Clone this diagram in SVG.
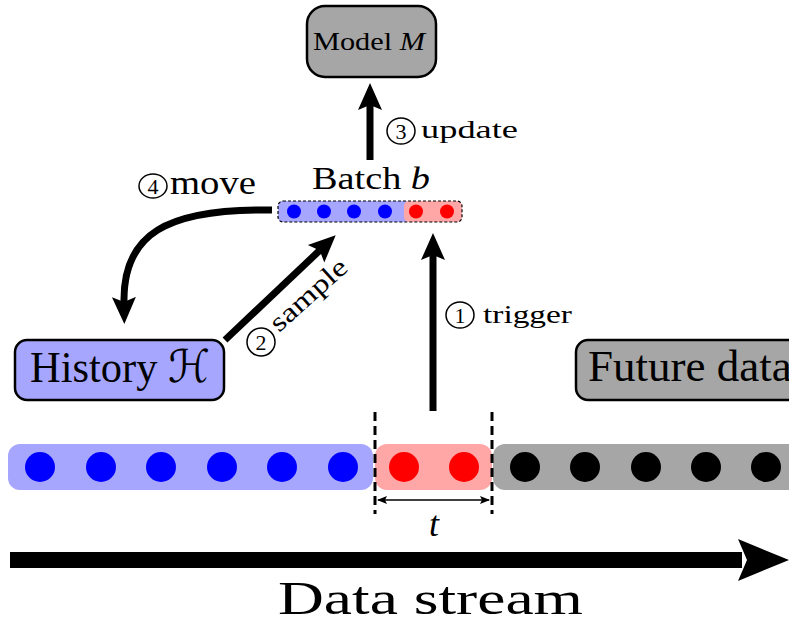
<svg xmlns="http://www.w3.org/2000/svg" width="789" height="630" viewBox="0 0 789 630">
<style>
text{font-family:"Liberation Serif","DejaVu Serif",serif;fill:#000}
.box{stroke:#000;stroke-width:2.5}
.conn{fill:none;stroke:#000;stroke-width:7}
.num{fill:none;stroke:#000;stroke-width:1.5}
.dash{stroke:#000;stroke-width:3;stroke-dasharray:9 5}
</style>
<defs>
<marker id="ah" markerUnits="userSpaceOnUse" markerWidth="30" markerHeight="28" viewBox="0 0 30 28" refX="5" refY="14" orient="auto">
<path d="M0,2 L27,14 L0,26 L5,14 z" fill="#000"/>
</marker>
<marker id="sh" markerUnits="userSpaceOnUse" markerWidth="10" markerHeight="10" viewBox="0 0 10 10" refX="9" refY="5" orient="auto-start-reverse">
<path d="M0,1 L10,5 L0,9 L2,5 z" fill="#000"/>
</marker>
</defs>
<rect width="789" height="630" fill="#fff"/>

<g id="model">
<rect class="box" x="307" y="6" width="129" height="71" rx="18" fill="#a6a6a6"/>
<text x="369" y="50" font-size="26" text-anchor="middle" textLength="112" lengthAdjust="spacingAndGlyphs">Model <tspan font-style="italic">M</tspan></text>
</g>

<g id="batch">
<text x="371" y="189" font-size="32" text-anchor="middle" textLength="118" lengthAdjust="spacingAndGlyphs">Batch <tspan font-style="italic">b</tspan></text>
<rect x="278" y="201" width="132" height="21" rx="5" fill="#a6a6ff"/>
<rect x="404" y="201" width="58" height="21" rx="5" fill="#ffa6a6"/>
<rect x="278" y="201" width="184" height="21" rx="5" fill="none" stroke="#000" stroke-width="1.2" stroke-dasharray="3 2"/>
<g fill="#0000ff"><circle cx="294" cy="211.5" r="7"/><circle cx="324" cy="211.5" r="7"/><circle cx="354" cy="211.5" r="7"/><circle cx="385" cy="211.5" r="7"/></g>
<g fill="#ff0000"><circle cx="416" cy="211.5" r="7"/><circle cx="447" cy="211.5" r="7"/></g>
</g>

<g id="history">
<rect class="box" x="15" y="340" width="209" height="60" rx="12" fill="#a6a6ff"/>
<text x="30" y="382" font-size="45" textLength="180" lengthAdjust="spacingAndGlyphs">History <tspan font-family="'DejaVu Sans',sans-serif">ℋ</tspan></text>
</g>

<g id="future">
<rect class="box" x="576" y="340" width="230" height="60" rx="12" fill="#a6a6a6"/>
<text x="588" y="381" font-size="45">Future data</text>
</g>

<g id="stream">
<rect x="8" y="444" width="365" height="46" rx="12" fill="#a6a6ff"/>
<rect x="375" y="444" width="117" height="46" rx="12" fill="#ffa6a6"/>
<rect x="493" y="444" width="310" height="46" rx="12" fill="#a6a6a6"/>
<g fill="#0000ff"><circle cx="40" cy="467" r="15"/><circle cx="101" cy="467" r="15"/><circle cx="161" cy="467" r="15"/><circle cx="222" cy="467" r="15"/><circle cx="282" cy="467" r="15"/><circle cx="343" cy="467" r="15"/></g>
<g fill="#ff0000"><circle cx="404" cy="467" r="15"/><circle cx="464" cy="467" r="15"/></g>
<g fill="#000"><circle cx="525" cy="467" r="15"/><circle cx="585" cy="467" r="15"/><circle cx="646" cy="467" r="15"/><circle cx="706" cy="467" r="15"/><circle cx="766" cy="467" r="15"/></g>
<line class="dash" x1="375" y1="412" x2="375" y2="514"/>
<line class="dash" x1="492" y1="412" x2="492" y2="514"/>
<line x1="378" y1="500" x2="489" y2="500" stroke="#000" stroke-width="1.5" marker-start="url(#sh)" marker-end="url(#sh)"/>
<text x="434" y="536" font-size="36" font-style="italic" text-anchor="middle">t</text>
</g>

<g id="timeline">
<rect x="10" y="552" width="732" height="16" fill="#000"/>
<path d="M789,560 L738,539 L747,560 L738,581 z" fill="#000"/>
<text x="278" y="614" font-size="47" textLength="305" lengthAdjust="spacingAndGlyphs">Data stream</text>
</g>

<g id="connectors">
<line class="conn" x1="370" y1="160" x2="370" y2="105" marker-end="url(#ah)"/>
<line class="conn" x1="433" y1="411" x2="433" y2="255" marker-end="url(#ah)"/>
<line class="conn" x1="225" y1="340" x2="319.7" y2="250.4" marker-end="url(#ah)"/>
<path class="conn" d="M272,210 C165,208 123,235 124,302" marker-end="url(#ah)"/>
</g>

<g id="labels">
<ellipse class="num" cx="401" cy="131" rx="14" ry="13"/><text x="401" y="139" font-size="22" text-anchor="middle">3</text>
<text x="421" y="138" font-size="26" textLength="97" lengthAdjust="spacingAndGlyphs">update</text>
<ellipse class="num" cx="460" cy="315" rx="14" ry="13"/><text x="460" y="323" font-size="22" text-anchor="middle">1</text>
<text x="483" y="323" font-size="26" textLength="89" lengthAdjust="spacingAndGlyphs">trigger</text>
<ellipse class="num" cx="153" cy="186" rx="14" ry="12"/><text x="153" y="194" font-size="22" text-anchor="middle">4</text>
<text x="170" y="194" font-size="34" textLength="86" lengthAdjust="spacingAndGlyphs">move</text>
<ellipse class="num" cx="261" cy="342" rx="14" ry="14"/><text x="261" y="350" font-size="22" text-anchor="middle">2</text>
<text transform="translate(279,333) rotate(-42)" font-size="27" textLength="95" lengthAdjust="spacingAndGlyphs">sample</text>
</g>
</svg>
